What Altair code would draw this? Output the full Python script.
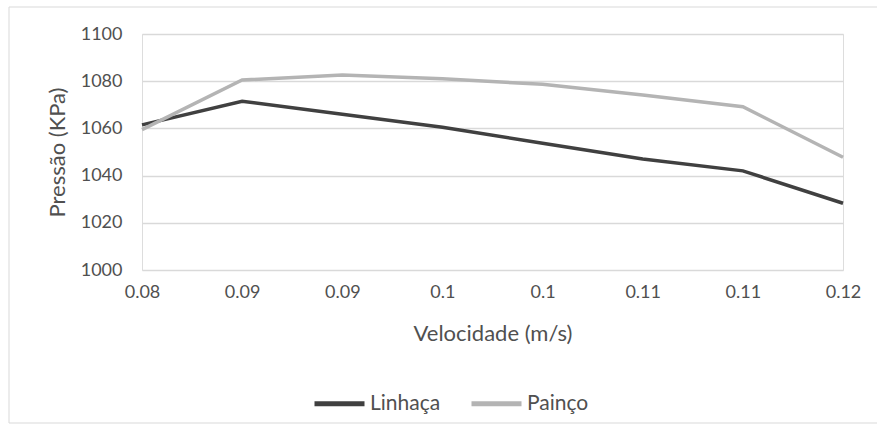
import altair as alt
import pandas as pd

velocidade_labels = ["0.08", "0.09", "0.09", "0.1", "0.1", "0.11", "0.11", "0.12"]
linhaca = [1061.5, 1071.5, 1066.0, 1060.5, 1053.7, 1047.0, 1042.0, 1028.3]
painco = [1059.5, 1080.5, 1082.6, 1081.0, 1078.7, 1074.2, 1069.2, 1047.8]
series_names = ["Linhaça", "Painço"]
series_colors = ["#404040", "#b4b4b4"]

rows = []
for name, vals in zip(series_names, [linhaca, painco]):
    for i, v in enumerate(vals):
        rows.append({"idx": i, "label": velocidade_labels[i], "serie": name, "pressao": v})
df = pd.DataFrame(rows)

label_expr = "[" + ",".join(f"'{l}'" for l in velocidade_labels) + "][datum.value]"

FONT = "Lato"
TXT = "#505050"
FS = 18
FT = 22

frame = alt.Chart(pd.DataFrame({"a": [0]})).mark_rect(
    fill=None, stroke="#d9d9d9", strokeWidth=1
).encode(
    x=alt.value(-133), x2=alt.value(740), y=alt.value(-27), y2=alt.value(389)
)

lines = alt.Chart(df).mark_line(strokeWidth=3.5).encode(
    x=alt.X(
        "idx:Q",
        scale=alt.Scale(domain=[0, 7], nice=False, zero=False),
        axis=alt.Axis(
            values=list(range(8)),
            labelExpr=label_expr,
            grid=False,
            domain=False,
            ticks=False,
            labelPadding=13,
            labelFontSize=FS,
            labelColor=TXT,
            labelFont=FONT,
            title="Velocidade (m/s)",
            titleFontSize=FT,
            titleFontWeight="normal",
            titleColor=TXT,
            titleFont=FONT,
            titleY=53,
            labelFlush=False,
        ),
    ),
    y=alt.Y(
        "pressao:Q",
        scale=alt.Scale(domain=[1000, 1100], nice=False, zero=False),
        axis=alt.Axis(
            values=[1000, 1020, 1040, 1060, 1080, 1100],
            format="d",
            grid=True,
            gridColor="#d9d9d9",
            gridWidth=1.5,
            domain=False,
            ticks=False,
            labelPadding=20,
            labelFontSize=FS,
            labelColor=TXT,
            labelFont=FONT,
            title="Pressão (KPa)",
            titleFontSize=FT,
            titleFontWeight="normal",
            titleColor=TXT,
            titleFont=FONT,
            titleX=-85,
            titleY=118,
            titleBaseline="middle",
        ),
    ),
    color=alt.Color(
        "serie:N",
        scale=alt.Scale(domain=series_names, range=series_colors),
        legend=alt.Legend(
            title=None,
            orient="none",
            legendX=170,
            legendY=342,
            direction="horizontal",
            symbolType="stroke",
            symbolSize=2500,
            symbolStrokeWidth=5,
            labelFontSize=21,
            labelColor=TXT,
            labelFont=FONT,
            labelOffset=3,
            columnPadding=20,
        ),
    ),
    order="idx:Q",
)

chart = alt.layer(frame, lines).properties(
    width=701,
    height=236,
    autosize=alt.AutoSizeParams(type="none"),
    padding={"left": 142, "top": 34, "right": 34, "bottom": 164},
).configure_view(stroke=None).configure(background="white")

chart.save("out.html", embed_options={"renderer": "svg", "actions": False})
